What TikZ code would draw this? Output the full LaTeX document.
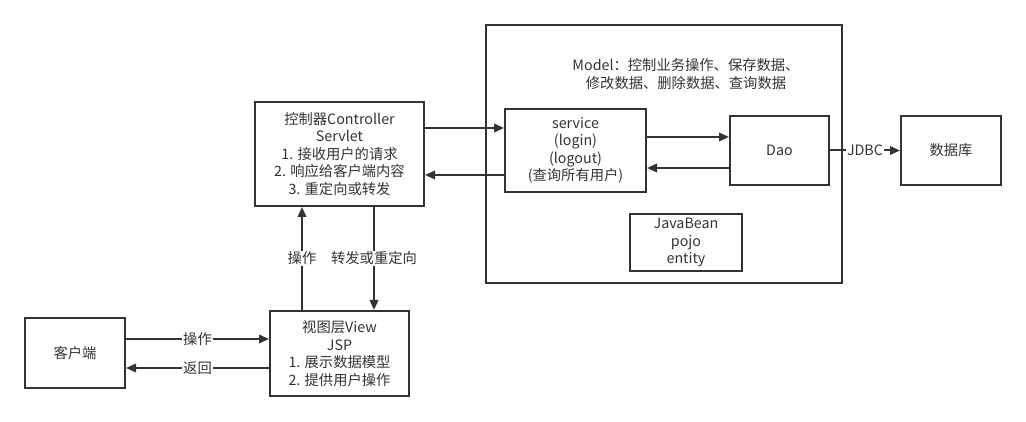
\documentclass[tikz,border=0pt]{standalone}
\usepackage{fontspec}
\setmainfont{Noto Sans CJK SC}
\usetikzlibrary{arrows.meta,positioning}
\definecolor{linegray}{HTML}{333333}
\definecolor{textgray}{HTML}{333333}

\begin{document}
\begin{tikzpicture}[
  x=1pt, y=-1pt,
  font=\fontsize{14.3}{17.5}\selectfont,
  >={Triangle[length=10pt,width=8.5pt]},
  box/.style={
    draw=linegray, line width=2pt,
    align=center, inner sep=1pt,
    text=textgray
  },
  edge/.style={->, draw=linegray, line width=2pt},
  tag/.style={fill=white, inner sep=1pt, text=textgray}
]
\useasboundingbox (0,0) rectangle (1026,422);

% Model container
\node[box, minimum width=356pt, minimum height=258pt] (model) at (664,154) {};
\node[text=textgray, align=center] (modeltext) at (686,74)
{Model：控制业务操作、保存数据、\\修改数据、删除数据、查询数据};

% Boxes
\node[box, minimum width=169pt, minimum height=104pt] (controller) at (339.5,154)
{控制器Controller\\Servlet\\1. 接收用户的请求\\2. 响应给客户端内容\\3. 重定向或转发};

\node[box, minimum width=141pt, minimum height=83pt] (service) at (575.5,150.5)
{service\\(login)\\(logout)\\(查询所有用户)};

\node[box, minimum width=99pt, minimum height=69pt] (dao) at (779.5,150.5) {Dao};

\node[box, minimum width=112pt, minimum height=57pt] (bean) at (686,242.5)
{JavaBean\\pojo\\entity};

\node[box, minimum width=100pt, minimum height=69pt] (db) at (951,150.5) {数据库};

\node[box, minimum width=100pt, minimum height=70pt] (client) at (75,353) {客户端};

\node[box, minimum width=139pt, minimum height=85pt] (view) at (339.5,353.5)
{视图层View\\JSP\\1. 展示数据模型\\2. 提供用户操作};

% Edges
\draw[edge] (controller.east |- 0,128) -- (service.west |- 0,128);
\draw[edge] (service.west |- 0,175) -- (controller.east |- 0,175);

\draw[edge] (service.east |- 0,137) -- (dao.west |- 0,137);
\draw[edge] (dao.west |- 0,168) -- (service.east |- 0,168);

\draw[edge] (dao.east) -- node[tag] {JDBC} (db.west);

\draw[edge] (view.north -| 302,0) -- node[tag] {操作} (controller.south -| 302,0);
\draw[edge] (controller.south -| 374,0) -- node[tag] {转发或重定向} (view.north -| 374,0);

\draw[edge] (client.east |- 0,339) -- node[tag] {操作} (view.west |- 0,339);
\draw[edge] (view.west |- 0,368) -- node[tag] {返回} (client.east |- 0,368);

\end{tikzpicture}
\end{document}
